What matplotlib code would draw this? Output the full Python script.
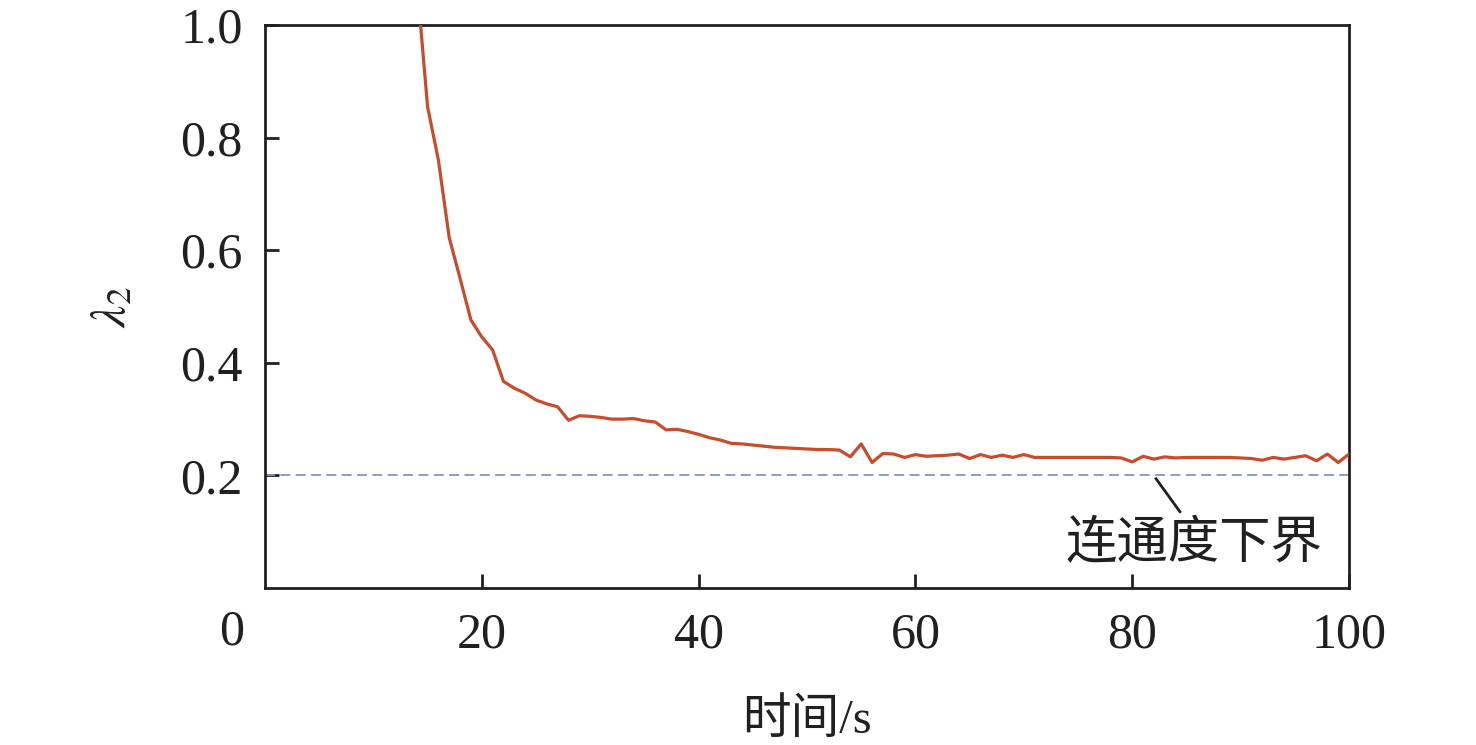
import numpy as np
import matplotlib.pyplot as plt

plt.rcParams['font.family'] = ['Liberation Serif', 'Noto Sans CJK SC']
plt.rcParams['mathtext.fontset'] = 'stix'

t = np.arange(14, 101)
lambda2 = [
    1.08, 0.855, 0.760, 0.622, 0.550, 0.476, 0.446, 0.423, 0.367, 0.355,   # 14-23
    0.346, 0.334, 0.327, 0.322, 0.298, 0.306, 0.305, 0.303, 0.300, 0.300,  # 24-33
    0.301, 0.297, 0.295, 0.281, 0.282, 0.278, 0.273, 0.267, 0.263, 0.257,  # 34-43
    0.256, 0.254, 0.252, 0.250, 0.249, 0.248, 0.247, 0.246, 0.246, 0.245,  # 44-53
    0.233, 0.256, 0.223, 0.239, 0.238, 0.232, 0.237, 0.234, 0.235, 0.236,  # 54-63
    0.238, 0.230, 0.237, 0.232, 0.236, 0.232, 0.237, 0.232, 0.232, 0.232,  # 64-73
    0.232, 0.232, 0.232, 0.232, 0.232, 0.231, 0.224, 0.234, 0.229, 0.233,  # 74-83
    0.231, 0.232, 0.232, 0.232, 0.232, 0.232, 0.231, 0.230, 0.227, 0.232,  # 84-93
    0.229, 0.232, 0.235, 0.226, 0.238, 0.223, 0.238,                       # 94-100
]
lower_bound = 0.2
bound_label = '连通度下界'

x_ticks = [20, 40, 60, 80, 100]
y_ticks = [0.2, 0.4, 0.6, 0.8, 1.0]

ink = '#231f20'
fig = plt.figure(figsize=(14.76, 7.45), dpi=100)
ax = fig.add_axes([0.1795, 0.2107, 0.9140 - 0.1795, 0.9664 - 0.2107])

ax.plot(t, lambda2, color='#c84b2c', lw=2.3, zorder=3)
ax.axhline(lower_bound, color='#7e9aba', lw=1.3, linestyle=(0, (5.5, 3.0)), zorder=2)

# leader line + label for the lower bound
ax.plot([82.2, 84.4], [0.194, 0.1355], color=ink, lw=2.0)
ax.text(85.7, 0.077, bound_label, fontsize=37, color=ink, ha='center', va='center')

ax.set_xlim(0, 100)
ax.set_ylim(0, 1.0)
ax.set_xticks(x_ticks)
ax.set_yticks(y_ticks)
ax.set_xticklabels([str(v) for v in x_ticks])
ax.set_yticklabels([f'{v:.1f}' for v in y_ticks])
ax.tick_params(direction='in', length=10, width=2.0, colors=ink,
               labelsize=36, top=False, right=False)
ax.tick_params(axis='x', pad=17)
ax.tick_params(axis='y', pad=16)
for s in ax.spines.values():
    s.set_linewidth(2.0)
    s.set_color(ink)

# shared origin label at the corner
ax.annotate('0', xy=(0, 0), xytext=(-33, -44), textcoords='offset pixels',
            fontsize=36, color=ink, ha='center', va='center', annotation_clip=False)

ax.set_xlabel('时间/s', fontsize=35, color=ink, labelpad=29)
ax.set_ylabel(r'$\lambda_2$', fontsize=36, color=ink, labelpad=32)

fig.savefig('out.png', dpi=100)
